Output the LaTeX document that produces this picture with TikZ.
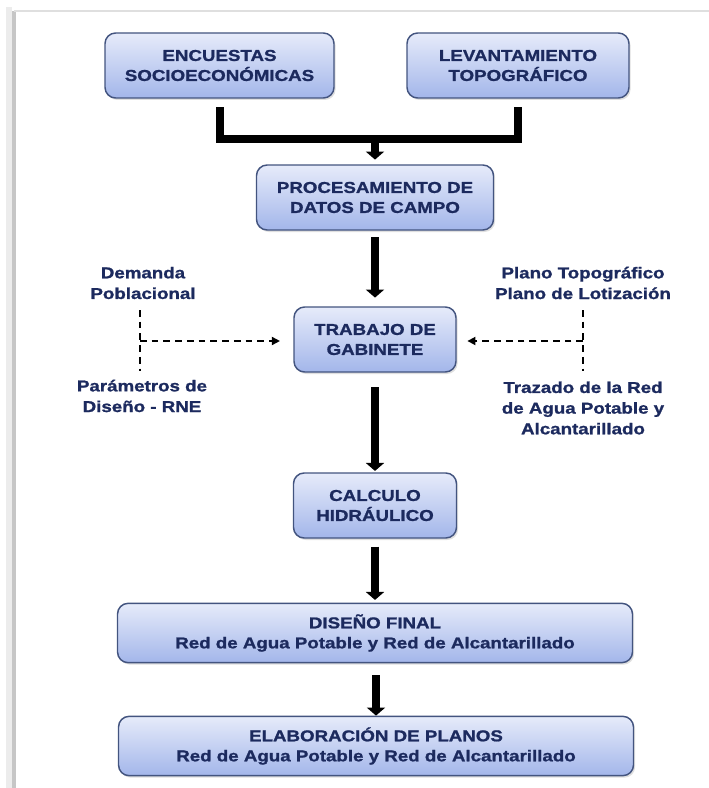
\documentclass[tikz,border=0pt]{standalone}
\usepackage{fontspec}
\setmainfont{Liberation Sans}[FakeStretch=1.19,BoldFeatures={FakeBold=1.2}]
\usetikzlibrary{arrows.meta, positioning, shadows, calc}
\definecolor{txtblue}{HTML}{1C2A5E}
\definecolor{boxtop}{HTML}{E6EBFA}
\definecolor{boxbot}{HTML}{A3B6EA}
\definecolor{boxline}{HTML}{43547F}
\tikzset{%
    boxsty/.style={
        rounded corners=8pt,
        draw=boxline,
        line width=1.1pt,
        top color=boxtop,
        bottom color=boxbot,
        drop shadow={opacity=0.25,shadow xshift=1.2pt,shadow yshift=-1.5pt},
        align=center,
        inner sep=0pt,
        minimum height=48.75pt,
        text=txtblue,
        font=\bfseries\fontsize{11.8}{15}\selectfont,
    },
    widesty/.style={
        boxsty,
        minimum width=386.25pt,
        minimum height=44.5pt,
    },
    notesty/.style={
        align=center,
        inner sep=0pt,
        text=txtblue,
        font=\bfseries\fontsize{11.8}{15.5}\selectfont,
    },
    linesty/.style={
        line width=6pt,
        black,
    },
    arrowsty/.style={
        linesty,
        -{Triangle[length=6pt,width=13.5pt]},
    },
    dashsty/.style={
        line width=1.3pt,
        dash pattern=on 5pt off 3.8pt,
        black,
    },
    dasharrow/.style={
        dashsty,
        -{Triangle[length=6pt,width=6pt]},
    },
}
\begin{document}
\begin{tikzpicture}[x=0.75pt,y=-0.75pt]

\useasboundingbox (0,0) rectangle (709,788);

% page edge
\draw[gray!15,line width=4pt] (9,788) -- (9,7);
\draw[gray!45,line width=3pt] (14,788) -- (14,11);
\draw[gray!25,line width=1.2pt] (14,11) -- (709,11);

% field work
\node (enc) [boxsty,minimum width=171.75pt] at (219.5,65.5) {ENCUESTAS\\SOCIOECONÓMICAS};
\node (lev) [boxsty,minimum width=166.5pt] at (518,65.5) {LEVANTAMIENTO\\TOPOGRÁFICO};
\node (proc) [boxsty,minimum width=177.75pt] at (375,197.5) {PROCESAMIENTO DE\\DATOS DE CAMPO};

% office work
\node (trab) [boxsty,minimum width=121.5pt] at (375,339.5) {TRABAJO DE\\GABINETE};
\node (calc) [boxsty,minimum width=122.25pt] at (375,505.5) {CALCULO\\HIDRÁULICO};
\node (dis) [widesty] at (375,633) {DISEÑO FINAL\\Red de Agua Potable y Red de Alcantarillado};
\node (elab) [widesty] at (376,746) {ELABORACIÓN DE PLANOS\\Red de Agua Potable y Red de Alcantarillado};

% inputs
\node (dem) [notesty] at (143,283) {Demanda\\Poblacional};
\node (par) [notesty] at (142,396) {Parámetros de\\Diseño - RNE};
\node (plt) [notesty] at (583,283) {Plano Topográfico\\Plano de Lotización};
\node (traz) [notesty] at (583,408) {Trazado de la Red\\de Agua Potable y\\Alcantarillado};

\coordinate (merge) at (373,139);
\coordinate (ljoin) at (140,341);
\coordinate (ltop) at (140,310);
\coordinate (lbot) at (140,371);
\coordinate (rjoin) at (583,341);
\coordinate (rtop) at (583,310);
\coordinate (rbot) at (583,371);

\draw[linesty] ([yshift=-6.5pt]enc.south) |- (merge) -| ([yshift=-6.5pt]lev.south);
\draw[arrowsty,shorten >=3.5pt] (merge) -- (merge -| proc.north) -- (proc.north);
\draw[arrowsty,shorten <=5pt,shorten >=6.5pt] (proc.south) -- (trab.north);
\draw[arrowsty,shorten <=11pt,shorten >=1pt] (trab.south) -- (calc.north);
\draw[arrowsty,shorten <=6pt,shorten >=2pt] (calc.south) -- (dis.north);
\draw[arrowsty,shorten <=9pt] (dis.south -| elab.north) -- (elab.north);

\draw[dashsty] (ltop) -- (lbot);
\draw[dasharrow,shorten >=10pt] (ljoin) -- (trab.west |- ljoin);
\draw[dashsty] (rtop) -- (rbot);
\draw[dasharrow,shorten >=8pt] (rjoin) -- (trab.east |- rjoin);

\end{tikzpicture}
\end{document}
